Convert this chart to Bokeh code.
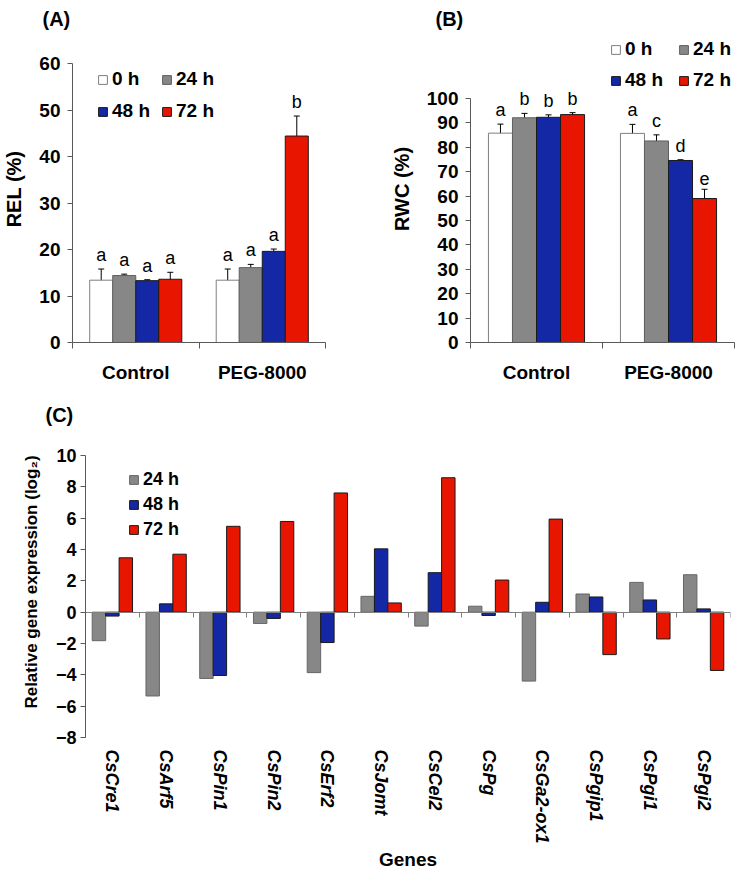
import numpy as np
from bokeh.plotting import figure
from bokeh.models import (Range1d, FixedTicker, Whisker, TeeHead, ColumnDataSource,
                          Legend, LegendItem, LinearAxis)
from bokeh.layouts import column, row
from bokeh.embed import file_html
from bokeh.resources import INLINE
from bokeh.core.properties import value

FONT = "Liberation Sans"
AXIS_COLOR = "#595959"

# ---------------- data: panels A and B ----------------
treatments = ["Control", "PEG-8000"]
times = ["0 h", "24 h", "48 h", "72 h"]
time_fill = ["#FFFFFF", "#878787", "#1428A6", "#E81600"]
time_edge = ["#7F7F7F", "#5F5F5F", "#1A1A1A", "#1A1A1A"]

rel_0h = [13.4, 13.4]
rel_24h = [14.4, 16.1]
rel_48h = [13.3, 19.6]
rel_72h = [13.6, 44.4]
rel_err_0h = [2.4, 2.4]
rel_err_24h = [0.3, 0.7]
rel_err_48h = [0.2, 0.5]
rel_err_72h = [1.5, 4.3]
rel_let_0h = ["a", "a"]
rel_let_24h = ["a", "a"]
rel_let_48h = ["a", "a"]
rel_let_72h = ["a", "b"]
rel_ticks = [0, 10, 20, 30, 40, 50, 60]

rwc_0h = [85.8, 85.7]
rwc_24h = [92.1, 82.6]
rwc_48h = [92.3, 74.6]
rwc_72h = [93.4, 59.0]
rwc_err_0h = [3.7, 3.7]
rwc_err_24h = [1.8, 2.5]
rwc_err_48h = [1.0, 0.3]
rwc_err_72h = [0.8, 3.8]
rwc_let_0h = ["a", "a"]
rwc_let_24h = ["b", "c"]
rwc_let_48h = ["b", "d"]
rwc_let_72h = ["b", "e"]
rwc_ticks = [0, 10, 20, 30, 40, 50, 60, 70, 80, 90, 100]

# ---------------- data: panel C ----------------
genes = ["CsCre1", "CsArf5", "CsPin1", "CsPin2", "CsErf2", "CsJomt", "CsCel2",
         "CsPg", "CsGa2-ox1", "CsPgip1", "CsPgi1", "CsPgi2"]
expr_times = ["24 h", "48 h", "72 h"]
expr_24h = [-1.82, -5.35, -4.23, -0.72, -3.86, 1.01, -0.89, 0.38, -4.40, 1.16, 1.90, 2.39]
expr_48h = [-0.25, 0.53, -4.04, -0.40, -1.94, 4.04, 2.52, -0.21, 0.63, 0.97, 0.78, 0.21]
expr_72h = [3.47, 3.70, 5.48, 5.79, 7.61, 0.59, 8.58, 2.05, 5.94, -2.71, -1.71, -3.72]
expr_fill = ["#878787", "#1428A6", "#E81600"]
expr_edge = ["#666666", "#1A1A1A", "#1A1A1A"]
expr_ticks = [-8, -6, -4, -2, 0, 2, 4, 6, 8, 10]

TOP_FRAME_H = 307  # common frame height of panels A and B (px)
C_AXIS_PX = 282    # pixel length of the C value axis (-8 .. 10)
C_FRAME_H = 311    # C frame height (extra room above the axis for the panel label)


def style_y(p, ticks, label, tick_size, label_size, standoff, label_standoff):
    ax = p.yaxis[0]
    ax.ticker = FixedTicker(ticks=ticks, minor_ticks=[])
    ax.bounds = (ticks[0], ticks[-1])
    ax.axis_label = label
    ax.axis_label_text_font = FONT
    ax.axis_label_text_font_style = "bold"
    ax.axis_label_text_font_size = label_size
    ax.axis_label_text_color = "black"
    ax.axis_label_standoff = label_standoff
    ax.major_label_text_font = FONT
    ax.major_label_text_font_style = "bold"
    ax.major_label_text_font_size = tick_size
    ax.major_label_text_color = "black"
    ax.major_label_standoff = standoff
    ax.major_tick_out = 5
    ax.major_tick_in = 0
    ax.axis_line_color = AXIS_COLOR
    ax.major_tick_line_color = AXIS_COLOR


def style_title(p, text, offset, standoff):
    p.title.text = text
    p.title.align = "left"
    p.title.offset = offset
    p.title.standoff = standoff
    p.title.text_font = FONT
    p.title.text_font_size = "20px"
    p.title.text_font_style = "bold"
    p.title.text_color = "black"


def bar_panel(series, errs, letters, ticks, axis_px, ylabel, title, title_offset,
              frame_w, left, right, legend_loc, legend_spacing, legend_lw):
    y_end = ticks[-1] * TOP_FRAME_H / axis_px
    p = figure(frame_width=frame_w, frame_height=TOP_FRAME_H, min_border_left=left,
               min_border_right=right, min_border_top=30, min_border_bottom=44,
               x_range=Range1d(0, len(treatments)), y_range=Range1d(0, y_end),
               output_backend="svg", toolbar_location=None)
    p.outline_line_color = None
    p.grid.visible = False
    w = 0.182
    items = []
    for j, t in enumerate(times):
        xs = np.arange(len(treatments)) + 0.5 + (j - 1.5) * w
        m = np.array(series[j])
        e = np.array(errs[j])
        src = ColumnDataSource(dict(x=xs, top=m, up=m + e, lo=m - e, let=letters[j]))
        r = p.vbar(x="x", top="top", width=w, source=src, fill_color=time_fill[j],
                   line_color=time_edge[j], line_width=1)
        items.append(LegendItem(label=t, renderers=[r]))
        wh = Whisker(source=src, base="x", upper="up", lower="lo", line_color="black",
                     line_width=1,
                     upper_head=TeeHead(size=6, line_color="black", line_width=1),
                     lower_head=TeeHead(size=6, line_color="black", line_width=1))
        p.add_layout(wh)
        p.text(x="x", y="up", text="let", source=src, text_align="center",
               text_baseline="bottom", y_offset=-4, text_font=value(FONT),
               text_font_size="18px", text_color="black")
    leg = Legend(items=items, location=legend_loc, orientation="horizontal", ncols=2,
                 spacing=legend_spacing, label_height=20, label_width=legend_lw,
                 glyph_width=11, glyph_height=11, label_standoff=4, padding=0, margin=0,
                 border_line_color=None, background_fill_alpha=0,
                 label_text_font=FONT, label_text_font_size="19px",
                 label_text_font_style="bold", label_text_color="black")
    p.add_layout(leg)
    xa = p.xaxis[0]
    xa.ticker = FixedTicker(ticks=[i + 0.5 for i in range(len(treatments))],
                            minor_ticks=list(range(len(treatments) + 1)))
    xa.major_label_overrides = {i + 0.5: t for i, t in enumerate(treatments)}
    xa.major_tick_out = 0
    xa.major_tick_in = 0
    xa.minor_tick_out = 6
    xa.minor_tick_in = 0
    xa.axis_line_color = AXIS_COLOR
    xa.minor_tick_line_color = AXIS_COLOR
    xa.major_label_text_font = FONT
    xa.major_label_text_font_style = "bold"
    xa.major_label_text_font_size = "19px"
    xa.major_label_text_color = "black"
    xa.major_label_standoff = 13
    style_y(p, ticks, ylabel, "19px", "20px", 7, 11)
    style_title(p, title, title_offset, 11)
    return p


pA = bar_panel([rel_0h, rel_24h, rel_48h, rel_72h],
               [rel_err_0h, rel_err_24h, rel_err_48h, rel_err_72h],
               [rel_let_0h, rel_let_24h, rel_let_48h, rel_let_72h],
               rel_ticks, 279, "REL (%)", "(A)", -30, 253, 67, 46,
               (25, 220), 10, 39)

pB = bar_panel([rwc_0h, rwc_24h, rwc_48h, rwc_72h],
               [rwc_err_0h, rwc_err_24h, rwc_err_48h, rwc_err_72h],
               [rwc_let_0h, rwc_let_24h, rwc_let_48h, rwc_let_72h],
               rwc_ticks, 244, "RWC (%)", "(B)", -35, 264, 99, 3,
               (140, 251), 9, 44)

# ---------------- panel C ----------------
c_y_end = expr_ticks[0] + (expr_ticks[-1] - expr_ticks[0]) * C_FRAME_H / C_AXIS_PX
pC = figure(frame_width=645, frame_height=C_FRAME_H, min_border_left=85, min_border_right=2,
            min_border_top=40, min_border_bottom=134,
            x_range=Range1d(0, len(genes)), y_range=Range1d(expr_ticks[0], c_y_end),
            output_backend="svg", toolbar_location=None)
pC.outline_line_color = None
pC.grid.visible = False
bw = 0.25
c_items = []
for j, (t, vals) in enumerate(zip(expr_times, [expr_24h, expr_48h, expr_72h])):
    xs = np.arange(len(genes)) + 0.5 + (j - 1) * bw
    src = ColumnDataSource(dict(x=xs, top=vals))
    r = pC.vbar(x="x", top="top", bottom=0, width=bw, source=src, fill_color=expr_fill[j],
                line_color=expr_edge[j], line_width=1)
    c_items.append(LegendItem(label=t, renderers=[r]))

legC = Legend(items=c_items, location=(43, 197), orientation="vertical", spacing=4,
              label_height=18, glyph_width=11, glyph_height=11, label_standoff=4,
              padding=0, margin=0, border_line_color=None, background_fill_alpha=0,
              label_text_font=FONT, label_text_font_size="18px",
              label_text_font_style="bold", label_text_color="black")
pC.add_layout(legC)

xc = pC.xaxis[0]
xc.ticker = FixedTicker(ticks=[i + 0.5 for i in range(len(genes))], minor_ticks=[])
xc.major_label_overrides = {i + 0.5: g for i, g in enumerate(genes)}
xc.major_label_orientation = "vertical"
xc.axis_line_color = None
xc.major_tick_line_color = None
xc.major_tick_out = 0
xc.major_tick_in = 0
xc.major_label_text_font = FONT
xc.major_label_text_font_style = "bold italic"
xc.major_label_text_font_size = "18px"
xc.major_label_text_color = "black"
xc.major_label_standoff = 12
xc.axis_label = "Genes"
xc.axis_label_text_font = FONT
xc.axis_label_text_font_style = "bold"
xc.axis_label_text_font_size = "19px"
xc.axis_label_text_color = "black"
xc.axis_label_standoff = 2

zero_axis = LinearAxis(fixed_location=0,
                       ticker=FixedTicker(ticks=[], minor_ticks=list(range(len(genes) + 1))),
                       major_label_text_font_size="0px", axis_line_color="#808080",
                       minor_tick_line_color="#808080", minor_tick_out=5, minor_tick_in=0,
                       major_tick_out=0, major_tick_in=0)
pC.add_layout(zero_axis, "below")

style_y(pC, expr_ticks, "Relative gene expression (log\u2082)", "18px", "17px", 4, 12)
style_title(pC, "(C)", -40, 2)

layout = column(row(pA, pB), pC)
open("out.html", "w").write(file_html(layout, INLINE))
